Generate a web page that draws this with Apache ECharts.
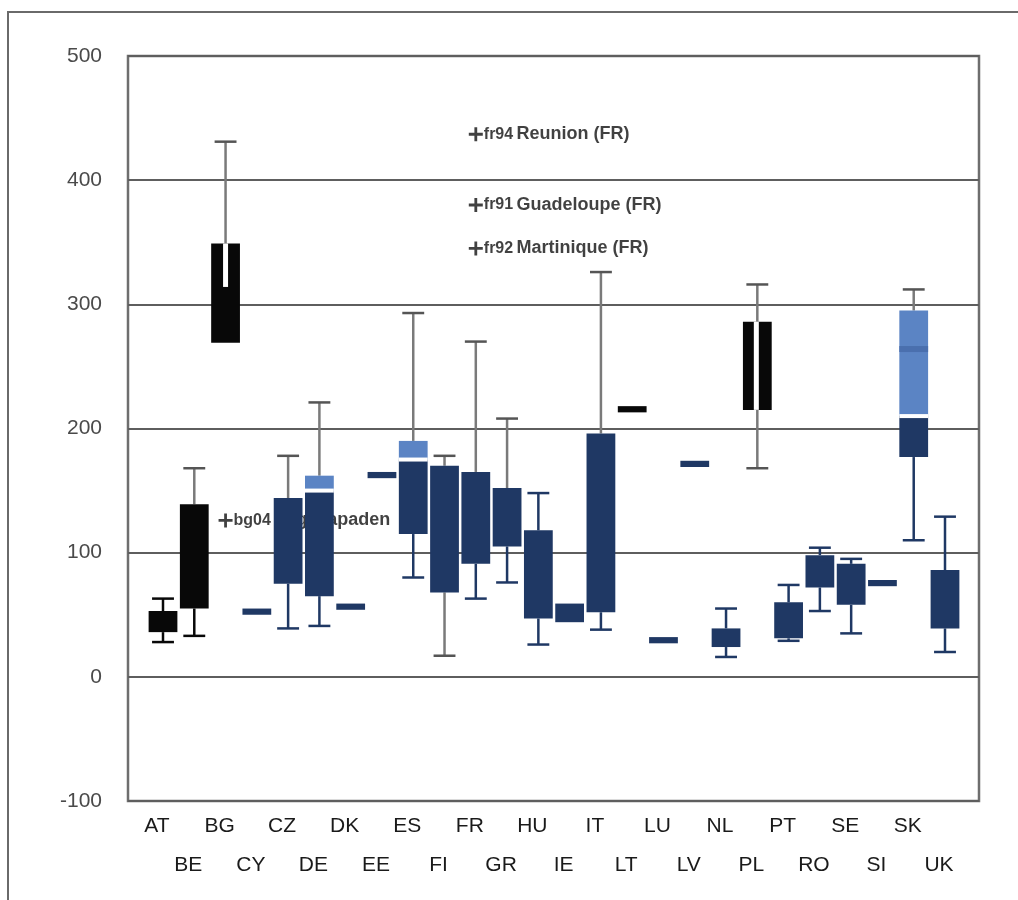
<!DOCTYPE html>
<html>
<head>
<meta charset="utf-8">
<script src="https://cdn.jsdelivr.net/npm/echarts@6/dist/echarts.min.js"></script>
<style>
html,body{margin:0;padding:0;background:#fff;}
#chart{width:1018px;height:900px;}
</style>
</head>
<body>
<div id="chart"></div>
<script>
// ---------- data ----------
const countries = ['AT','BE','BG','CY','CZ','DE','DK','EE','ES','FI','FR','GR','HU','IE','IT','LT','LU','LV','NL','PL','PT','RO','SE','SI','SK','UK'];
const whiskerLow  = [28, 33, null, null, 39, 41, null, null, 80, 17, 63, 76, 26, null, 38, null, null, null, 16, 168, 29, 53, 35, null, 110, 20];
const lowerQ      = [36, 55, 269, 50, 75, 65, 54, 160, 115, 68, 91, 105, 47, 44, 52, 213, 27, 169, 24, 215, 31, 72, 58, 73, 177, 39];
const medianV     = [null, null, 314, null, null, 150, null, null, 175, null, null, null, null, null, null, null, null, null, null, null, null, null, null, null, 210, null];
const upperQ      = [53, 139, 349, 55, 144, 162, 59, 165, 190, 170, 165, 152, 118, 59, 196, 218, 32, 174, 39, 286, 60, 98, 91, 78, 295, 86];
const whiskerHigh = [63, 168, 431, null, 178, 221, null, null, 293, 178, 270, 208, 148, null, 326, null, null, null, 55, 316, 74, 104, 95, null, 312, 129];
const meanMark    = [null, null, null, null, null, null, null, null, null, null, null, null, null, null, null, null, null, null, null, null, null, null, null, null, 264, null];

const outlierCountries = ['BG', 'FR', 'FR', 'FR'];
const outlierValues    = [126, 437, 380, 345];
const outlierCodes     = ['bg04', 'fr94', 'fr91', 'fr92'];
const outlierNames     = ['Yugozapaden', 'Reunion (FR)', 'Guadeloupe (FR)', 'Martinique (FR)'];

const yTicks = [-100, 0, 100, 200, 300, 400, 500];

// ---------- styles ----------
const FONT = "'Liberation Sans', Arial, sans-serif";
const NAVY = '#1f3864', BLACK = '#080808', LIGHT = '#5b84c4', LIGHTMARK = '#4a6fae', GREY = '#7a7a7a', GREYCAP = '#555555';
const blackSet   = new Set(['AT','BE','BG','LT','PL']);
const twoToneSet = new Set(['DE','ES','SK']);
const greyUpper  = new Set(['BE','BG','CZ','DE','ES','FI','FR','GR','IT','PL','SK']);
const greyLower  = new Set(['FI','PL']);
const notchUpper = new Set(['BG']);
const splitFull  = new Set(['PL']);

function renderBox(params, api) {
  const i = params.dataIndex;
  const c = countries[i];
  const band = api.size([1, 0])[0];
  const bw = band * 0.92;
  const capW = band * 0.7;
  const x = api.coord([i, 0])[0];
  const y = v => api.coord([i, v])[1];
  const dark = blackSet.has(c) ? BLACK : NAVY;
  const light = twoToneSet.has(c) ? LIGHT : dark;
  const upCol = greyUpper.has(c) ? GREY : dark;
  const upCap = greyUpper.has(c) ? GREYCAP : dark;
  const lowCol = greyLower.has(c) ? GREY : dark;
  const lowCap = greyLower.has(c) ? GREYCAP : dark;
  const ch = [];
  if (whiskerHigh[i] != null) {
    ch.push({type:'line', shape:{x1:x, y1:y(whiskerHigh[i]), x2:x, y2:y(upperQ[i])}, style:{stroke:upCol, lineWidth:2.5}});
    ch.push({type:'line', shape:{x1:x-capW/2, y1:y(whiskerHigh[i]), x2:x+capW/2, y2:y(whiskerHigh[i])}, style:{stroke:upCap, lineWidth:2.5}});
  }
  if (whiskerLow[i] != null) {
    ch.push({type:'line', shape:{x1:x, y1:y(lowerQ[i]), x2:x, y2:y(whiskerLow[i])}, style:{stroke:lowCol, lineWidth:2.5}});
    ch.push({type:'line', shape:{x1:x-capW/2, y1:y(whiskerLow[i]), x2:x+capW/2, y2:y(whiskerLow[i])}, style:{stroke:lowCap, lineWidth:2.5}});
  }
  const top = y(upperQ[i]), bot = y(lowerQ[i]);
  const m = medianV[i];
  if (twoToneSet.has(c) && m != null) {
    const ym = y(m);
    ch.push({type:'rect', shape:{x:x-bw/2, y:ym, width:bw, height:bot-ym}, style:{fill:dark}});
    ch.push({type:'rect', shape:{x:x-bw/2, y:top, width:bw, height:ym-top}, style:{fill:light}});
    ch.push({type:'line', shape:{x1:x-bw/2, y1:ym, x2:x+bw/2, y2:ym}, style:{stroke:'#ffffff', lineWidth:4}});
  } else {
    ch.push({type:'rect', shape:{x:x-bw/2, y:top, width:bw, height:bot-top}, style:{fill:dark}});
  }
  if (meanMark[i] != null) {
    ch.push({type:'line', shape:{x1:x-bw/2, y1:y(meanMark[i]), x2:x+bw/2, y2:y(meanMark[i])}, style:{stroke:LIGHTMARK, lineWidth:6}});
  }
  if (notchUpper.has(c) && m != null) {
    ch.push({type:'rect', shape:{x:x-2.5, y:top, width:5, height:y(m)-top}, style:{fill:'#ffffff'}});
  }
  if (splitFull.has(c)) {
    ch.push({type:'rect', shape:{x:x-3.5, y:top, width:5, height:bot-top}, style:{fill:'#ffffff'}});
  }
  return {type:'group', children: ch};
}

const chart = echarts.init(document.getElementById('chart'), null, {renderer:'canvas'});
const GRID_TOP = 56, GRID_H = 745;
const BAND = 31.28, FIRST_CENTER = 163;

const option = {
  animation: false,
  backgroundColor: '#ffffff',
  textStyle: {fontFamily: FONT},
  graphic: [{
    type: 'rect', silent: true, z: 0,
    shape: {x: 8, y: 12, width: 1100, height: 1000},
    style: {fill: 'none', stroke: '#6a6a6a', lineWidth: 2}
  }],
  grid: [
    {left: 128, top: GRID_TOP, width: 851, height: GRID_H, show: true, borderColor: '#6e6e6e', borderWidth: 2.5, backgroundColor: 'transparent'},
    {left: FIRST_CENTER - BAND/2, top: GRID_TOP, width: BAND * countries.length, height: GRID_H}
  ],
  xAxis: [
    {type: 'value', gridIndex: 0, show: false, min: 0, max: 1},
    {type: 'category', gridIndex: 1, data: countries, boundaryGap: true,
     axisLine: {show: false}, axisTick: {show: false},
     axisLabel: {interval: 0, margin: 6, fontSize: 21, color: '#1a1a1a', fontFamily: FONT,
       lineHeight: 39, padding: [0, 12, 0, 0],
       formatter: (v, idx) => (idx % 2 === 1 ? '\n' + v : v)}}
  ],
  yAxis: [
    {type: 'value', gridIndex: 0, min: yTicks[0], max: yTicks[yTicks.length-1], interval: 100,
     axisLine: {show: false}, axisTick: {show: false},
     axisLabel: {margin: 26, fontSize: 21, color: '#4a4a4a', fontFamily: FONT},
     splitLine: {show: true, lineStyle: {color: '#5e5e5e', width: 2}}},
    {type: 'value', gridIndex: 1, min: yTicks[0], max: yTicks[yTicks.length-1], interval: 100, show: false}
  ],
  series: [
    {
      type: 'scatter', xAxisIndex: 1, yAxisIndex: 1, z: 3,
      symbol: 'path://M4,0h2v4h4v2h-4v4h-2v-4h-4v-2h4z', symbolSize: 14,
      itemStyle: {color: '#111111'},
      data: outlierCountries.map((c, k) => ({value: [c, outlierValues[k]], name: outlierCodes[k]})),
      label: {show: true, position: 'right', distance: 1,
              formatter: p => '{code|' + outlierCodes[p.dataIndex] + '} {name|' + outlierNames[p.dataIndex] + '}',
              color: '#111111', fontFamily: FONT, fontWeight: 'bold',
              rich: {
                code: {fontSize: 16, fontWeight: 'bold', color: '#111111', fontFamily: FONT},
                name: {fontSize: 18, fontWeight: 'bold', color: '#111111', fontFamily: FONT}
              }}
    },
    {
      type: 'custom', xAxisIndex: 1, yAxisIndex: 1, z: 5, clip: false,
      renderItem: renderBox,
      encode: {x: 0, y: [1, 2]},
      data: countries.map((c, i) => [i, lowerQ[i], upperQ[i]])
    }
  ]
};
chart.setOption(option);
</script>
</body>
</html>
